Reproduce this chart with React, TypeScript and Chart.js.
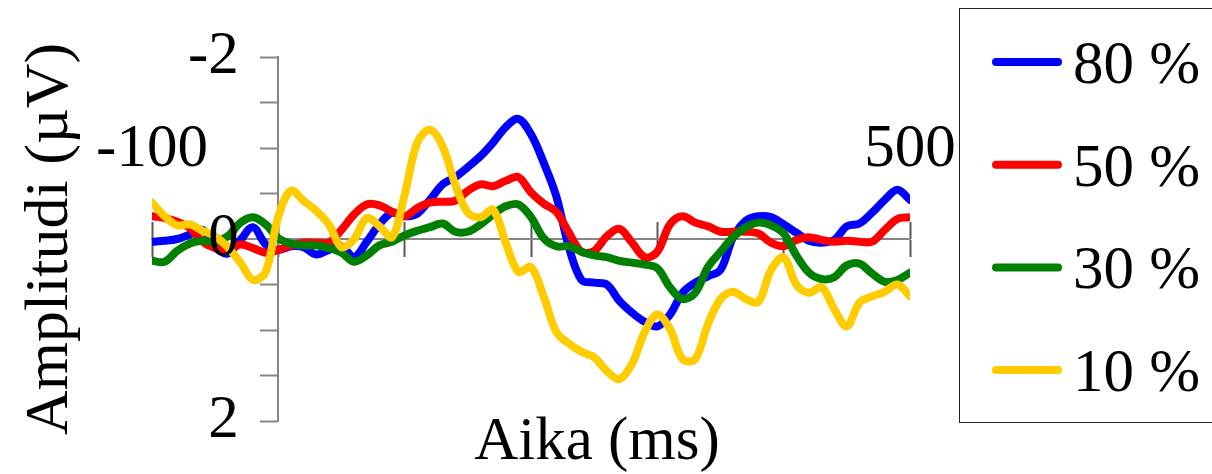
import React, { useEffect, useRef } from 'react';
import { Chart, registerables } from 'chart.js';

Chart.register(...registerables);

// ---- data ----
const TIMES_MS = [
  -100, -90, -80, -70, -60, -50, -40, -30, -20, -10,
  0, 10, 20, 30, 40, 50, 60, 70, 80, 90,
  100, 110, 120, 130, 140, 150, 160, 170, 180, 190,
  200, 210, 220, 230, 240, 250, 260, 270, 280, 290,
  300, 310, 320, 330, 340, 350, 360, 370, 380, 390,
  400, 410, 420, 430, 440, 450, 460, 470, 480, 490,
  500,
];

const SERIES_LABELS = ['80 %', '50 %', '30 %', '10 %'];
const SERIES_COLORS = ['#0000FF', '#FF0000', '#008000', '#FFCC00'];

const AMP_80 = [
  0.03, 0.02, 0.0, -0.05, -0.1, 0.09, 0.16, 0.01, -0.13, 0.06,
  0.12, 0.08, 0.09, 0.17, 0.12, 0.08, 0.2, 0.03, -0.16, -0.29,
  -0.25, -0.28, -0.43, -0.6, -0.68, -0.79, -0.91, -1.06, -1.23, -1.32,
  -1.15, -0.84, -0.47, 0.09, 0.45, 0.48, 0.5, 0.68, 0.81, 0.91,
  0.96, 0.83, 0.59, 0.48, 0.41, 0.34, -0.02, -0.2, -0.25, -0.24,
  -0.16, -0.07, 0.02, 0.04, 0.01, -0.14, -0.17, -0.29, -0.43, -0.54,
  -0.43,
];

const AMP_50 = [
  -0.25, -0.23, -0.19, -0.12, 0.03, 0.1, 0.12, 0.06, 0.1, 0.15,
  0.12, 0.07, 0.04, 0.04, 0.04, -0.1, -0.27, -0.38, -0.37, -0.3,
  -0.25, -0.34, -0.4, -0.41, -0.42, -0.53, -0.6, -0.58, -0.64, -0.68,
  -0.51, -0.39, -0.3, -0.07, 0.14, 0.13, -0.03, -0.11, 0.04, 0.2,
  0.14, -0.16, -0.25, -0.18, -0.14, -0.08, -0.08, -0.08, -0.06, 0.04,
  0.08, 0.01, -0.02, 0.01, 0.03, 0.02, 0.03, 0.03, -0.1, -0.22,
  -0.24,
];

const AMP_30 = [
  0.24, 0.25, 0.13, 0.05, 0.02, 0.03, -0.03, -0.18, -0.24, -0.16,
  -0.01, 0.05, 0.07, 0.07, 0.1, 0.15, 0.25, 0.18, 0.07, 0.03,
  -0.04, -0.09, -0.13, -0.17, -0.08, -0.08, -0.16, -0.27, -0.36, -0.38,
  -0.24, -0.01, 0.08, 0.08, 0.14, 0.18, 0.2, 0.24, 0.26, 0.28,
  0.32, 0.53, 0.66, 0.59, 0.31, 0.14, -0.02, -0.13, -0.18, -0.15,
  -0.06, 0.18, 0.37, 0.44, 0.42, 0.29, 0.27, 0.38, 0.47, 0.45,
  0.37,
];

const AMP_10 = [
  -0.4, -0.25, -0.15, -0.16, -0.09, -0.03, 0.09, 0.26, 0.45, 0.36,
  -0.25, -0.53, -0.42, -0.31, -0.16, 0.09, 0.0, -0.23, -0.14, -0.02,
  -0.49, -1.06, -1.2, -1.02, -0.6, -0.29, -0.24, -0.32, 0.04, 0.36,
  0.31, 0.63, 1.02, 1.15, 1.24, 1.3, 1.45, 1.54, 1.37, 1.02,
  0.83, 0.99, 1.32, 1.32, 0.94, 0.66, 0.58, 0.66, 0.69, 0.34,
  0.2, 0.5, 0.59, 0.53, 0.77, 0.96, 0.7, 0.63, 0.58, 0.5,
  0.63,
];

const X_TICK_LABELS = [-100, 500];
const Y_TICK_LABELS = [-2, 0, 2];
const X_TITLE = 'Aika (ms)';
const Y_TITLE = 'Amplitudi (µV)';

// ---- styling ----
const FONT = "'Liberation Serif', 'Times New Roman', serif";
const AXIS_GRAY = '#868686';
const TICK_GRAY = '#595959';
const X_TITLE_BAND = 53;
const Y_TITLE_BAND = 152;

const boxLegend = {
  id: 'boxLegend',
  afterDraw(chart: any, _args: any, opts: any) {
    const ctx = chart.ctx;
    ctx.save();
    ctx.strokeStyle = opts.borderColor;
    ctx.lineWidth = 1;
    ctx.strokeRect(opts.left + 0.5, opts.top + 0.5, opts.width, opts.height);
    ctx.font = `${opts.fontSize}px ${FONT}`;
    ctx.textBaseline = 'middle';
    ctx.textAlign = 'left';
    chart.data.datasets.forEach((ds: any, i: number) => {
      const y = opts.firstRow + i * opts.rowGap;
      ctx.strokeStyle = ds.borderColor;
      ctx.lineWidth = opts.lineWidth;
      ctx.lineCap = 'round';
      ctx.beginPath();
      ctx.moveTo(opts.lineStart, y);
      ctx.lineTo(opts.lineEnd, y);
      ctx.stroke();
      ctx.fillStyle = '#000';
      ctx.fillText(ds.label, opts.textX, y + opts.textDy);
    });
    ctx.restore();
  },
};

// keep tick-label overhang from pushing the plot area around
const noOverhang = (scale: any) => {
  scale.paddingTop = 0;
  scale.paddingBottom = 0;
  scale.paddingLeft = 0;
  scale.paddingRight = 0;
};

export default function App() {
  const ref = useRef<HTMLCanvasElement>(null);

  useEffect(() => {
    document.body.style.margin = '0';
    Chart.defaults.font.family = FONT;
    Chart.defaults.color = '#000';

    const seriesValues = [AMP_80, AMP_50, AMP_30, AMP_10];
    const datasets = seriesValues.map((arr, i) => ({
      label: SERIES_LABELS[i],
      data: TIMES_MS.map((t, j) => ({ x: t, y: arr[j] })),
      borderColor: SERIES_COLORS[i],
      backgroundColor: SERIES_COLORS[i],
      borderWidth: 8,
      pointRadius: 0,
      pointHoverRadius: 0,
      tension: 0.35,
      borderJoinStyle: 'round' as const,
      borderCapStyle: 'round' as const,
      fill: false,
      xAxisID: 'x',
      yAxisID: 'y',
      order: seriesValues.length - 1 - i,
    }));

    const tickFont = { family: FONT, size: 61 };
    const hidden = {
      ticks: { display: false },
      grid: { display: false, drawTicks: false },
      border: { display: false },
    };
    const bandHeight = (scale: any) => {
      noOverhang(scale);
      scale.height = X_TITLE_BAND;
    };

    const chart = new Chart(ref.current as HTMLCanvasElement, {
      type: 'line',
      data: { datasets },
      plugins: [boxLegend],
      options: {
        responsive: false,
        animation: false,
        events: [],
        layout: {
          autoPadding: false,
          padding: { left: 0, top: 57, right: 302, bottom: 0 },
        },
        plugins: {
          legend: { display: false },
          tooltip: { enabled: false },
          boxLegend: {
            left: 959,
            top: 8,
            width: 260,
            height: 414,
            borderColor: '#222',
            firstRow: 62,
            rowGap: 102.7,
            lineStart: 996,
            lineEnd: 1058,
            lineWidth: 8,
            textX: 1073,
            textDy: 5,
            fontSize: 61,
          },
        } as any,
        scales: {
          x: {
            type: 'linear',
            min: -100,
            max: 500,
            position: { y: 0 } as any,
            afterFit: noOverhang,
            ticks: {
              stepSize: 100,
              autoSkip: false,
              maxRotation: 0,
              minRotation: 0,
              padding: -143,
              color: '#000',
              font: tickFont,
              callback: (v: any) => (X_TICK_LABELS.includes(Number(v)) ? String(v) : ''),
            },
            grid: {
              drawOnChartArea: false,
              drawTicks: true,
              tickLength: 17,
              tickColor: TICK_GRAY,
              tickWidth: 2,
            },
            border: { display: true, color: AXIS_GRAY, width: 2 },
          },
          xUp: {
            type: 'linear',
            min: -100,
            max: 500,
            position: { y: 0 } as any,
            ticks: { stepSize: 100, display: false },
            grid: {
              drawOnChartArea: false,
              drawTicks: true,
              tickLength: -17,
              tickColor: TICK_GRAY,
              tickWidth: 2,
            },
            border: { display: false },
          },
          y: {
            type: 'linear',
            min: -2,
            max: 2,
            reverse: true,
            position: { x: 0 } as any,
            afterFit: noOverhang,
            ticks: { stepSize: 0.5, display: false },
            grid: {
              drawOnChartArea: false,
              drawTicks: true,
              tickLength: 17,
              tickColor: AXIS_GRAY,
              tickWidth: 2,
            },
            border: { display: true, color: AXIS_GRAY, width: 2 },
          },
          yTitle: {
            type: 'linear',
            position: 'left',
            min: -2,
            max: 2,
            reverse: true,
            afterFit: (scale: any) => {
              noOverhang(scale);
              scale.width = Y_TITLE_BAND;
            },
            ticks: {
              stepSize: 0.5,
              autoSkip: false,
              mirror: true,
              crossAlign: 'far',
              padding: 36,
              z: 1,
              color: '#000',
              font: tickFont,
              callback: (v: any) => (Y_TICK_LABELS.includes(Number(v)) ? String(v) : ''),
            },
            grid: { display: false, drawTicks: false },
            border: { display: false },
            title: {
              display: true,
              text: Y_TITLE,
              color: '#000',
              font: { family: FONT, size: 62, lineHeight: 1 },
              padding: { top: 20, bottom: 70 },
            },
          },
          xSpacer: {
            type: 'linear',
            position: 'bottom',
            stack: 'xt',
            stackWeight: 0.174,
            min: 0,
            max: 1,
            afterFit: bandHeight,
            ...hidden,
          },
          xTitle: {
            type: 'linear',
            position: 'bottom',
            stack: 'xt',
            stackWeight: 0.826,
            min: 0,
            max: 1,
            afterFit: bandHeight,
            ...hidden,
            title: {
              display: true,
              text: X_TITLE,
              color: '#000',
              font: { family: FONT, size: 61, lineHeight: 1 },
              padding: { top: -9, bottom: 1 },
            },
          },
        } as any,
      },
    });

    return () => chart.destroy();
  }, []);

  return (
    <div style={{ width: 1212, height: 474 }}>
      <canvas ref={ref} width={1212} height={474} style={{ display: 'block' }} />
    </div>
  );
}
